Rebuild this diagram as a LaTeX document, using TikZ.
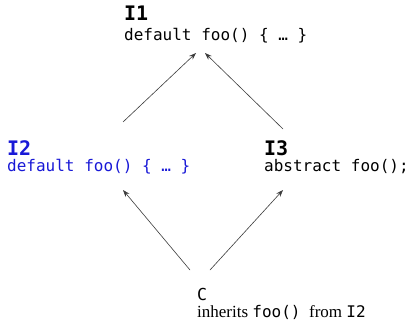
\documentclass[tikz,border=0pt]{standalone}
\usepackage{fontspec}
\setmainfont{Liberation Serif}
\newfontfamily\codefont{DejaVu Sans Mono}
\usetikzlibrary{arrows.meta}
\definecolor{ifblue}{RGB}{25,25,215}
\definecolor{arrowgray}{RGB}{60,60,60}
\begin{document}
\begin{tikzpicture}[x=1pt,y=1pt,
  title/.style={anchor=base west,inner sep=0pt,font=\codefont\bfseries\fontsize{20}{20}\selectfont},
  code/.style={anchor=base west,inner sep=0pt,font=\codefont\fontsize{16}{16}\selectfont},
  note/.style={anchor=base west,inner sep=0pt,font=\fontsize{17}{17}\selectfont},
  inh/.style={draw=arrowgray,line width=0.6pt,-{Stealth[length=7pt,width=5pt]}}]
\useasboundingbox (0,0) rectangle (411,325);
\fill[white] (0,0) rectangle (411,325);
% I1
\node[title] (i1t) at (124,305) {I1};
\node[code] (i1c) at (124,285) {default foo() \{ … \}};
% I2
\node[title,text=ifblue] (i2t) at (7,170) {I2};
\node[code,text=ifblue] (i2c) at (7,154) {default foo() \{ … \}};
% I3
\node[title] (i3t) at (264,170) {I3};
\node[code] (i3c) at (264,154) {abstract foo();};
% C
\node[title,font=\codefont\fontsize{16.5}{16}\selectfont] (ct) at (197,25) {C};
\node[note] (cc) at (197,8) {inherits {\codefont\fontsize{16}{16}\selectfont foo()}\enspace from {\codefont\fontsize{16}{16}\selectfont I2}};
% connector end points
\coordinate (i1l) at (196,272);
\coordinate (i1r) at (205,272);
\coordinate (i2top) at (123,203);
\coordinate (i3top) at (283,196);
\coordinate (i2bot) at (123,135);
\coordinate (i3bot) at (283,135);
\coordinate (cl) at (190,55);
\coordinate (cr) at (210,55);
\draw[inh] (i2top) -- (i1l);
\draw[inh] (i3top) -- (i1r);
\draw[inh] (cl) -- (i2bot);
\draw[inh] (cr) -- (i3bot);
\end{tikzpicture}
\end{document}
